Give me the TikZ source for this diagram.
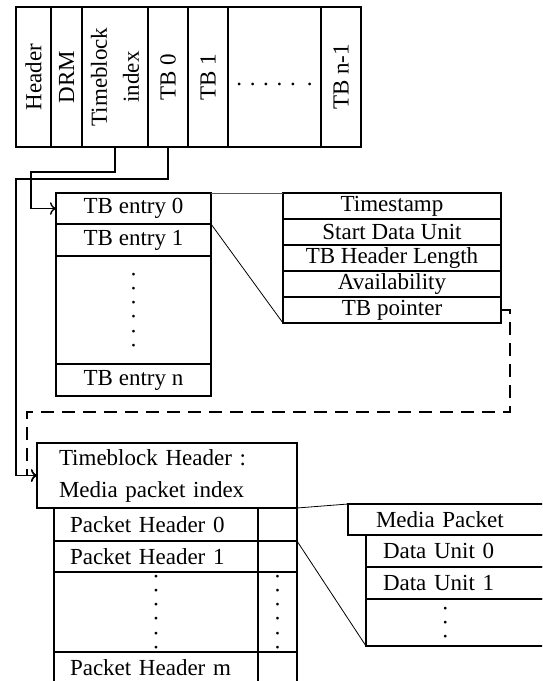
\documentclass[tikz,border=0pt]{standalone}
\usepackage{fontspec}
\setmainfont{Liberation Serif}
\usetikzlibrary{arrows.meta, positioning}

\newcommand{\dotgap}{\hspace{4.2pt}}

\begin{document}
\begin{tikzpicture}[
        x=0.5pt, y=-0.5pt,
        cell/.style={draw, line width=0.7pt, inner sep=0pt, outer sep=0pt,
            font=\fontsize{11.5pt}{16pt}\selectfont},
        column/.style={cell, rotate=90, minimum width=70pt, align=center},
        entry/.style={cell, minimum width=77.5pt, minimum height=16pt},
        field/.style={cell, minimum width=109pt, minimum height=13pt},
        packet/.style={cell, text width=86pt, inner xsep=8pt, align=left, minimum height=16pt},
        flag/.style={cell, minimum width=19.5pt, minimum height=16pt},
        unit/.style={cell, text width=80pt, inner xsep=8.5pt, align=left, minimum height=16pt},
        dotcol/.style={align=center},
        link/.style={-{To[length=3pt]}, line width=0.7pt},
        zoomline/.style={line width=0.4pt}
    ]
    \useasboundingbox (0,0) rectangle (542,681);
    \clip (0,0) rectangle (542,681);

    % File layout
    \node[column, minimum height=17.5pt] (hdr) at (33.5,77) {Header};
    \node[column, minimum height=15.5pt] (drm) at (66.5,77) {DRM};
    \node[column, minimum height=33pt] (tbidx) at (115,77) {Timeblock\\index};
    \node[column, minimum height=20pt] (tb0) at (168,77) {TB 0};
    \node[column, minimum height=20pt] (tb1) at (208,77) {TB 1};
    \node[cell, minimum width=46.5pt, minimum height=70pt, text height=8pt, text depth=0pt]
        (tbdots) at (274.5,77) {. . . . .\hspace{5.5pt}.};
    \node[column, minimum height=20pt] (tbn) at (341,77) {TB n-1};

    % Timeblock index
    \node[entry, minimum height=15.5pt, anchor=north west] (e0) at (56,193) {TB entry 0};
    \node[entry, below=0pt of e0] (e1) {TB entry 1};
    \node[entry, minimum height=54pt, dotcol, below=0pt of e1] (edots)
        {\rotatebox{90}{.\dotgap.\dotgap.\dotgap.\dotgap.\dotgap.}};
    \node[entry, below=0pt of edots] (en) {TB entry n};

    % TB entry fields
    \node[field, anchor=north west] (ts) at (283,193) {Timestamp};
    \node[field, below=0pt of ts] (sdu) {Start Data Unit};
    \node[field, below=0pt of sdu] (hlen) {TB Header Length};
    \node[field, below=0pt of hlen] (avail) {Availability};
    \node[field, below=0pt of avail] (ptr) {TB pointer};

    % Timeblock
    \node[cell, text width=108pt, inner xsep=11pt, align=left, minimum height=32.5pt,
        anchor=north west] (tbh) at (37,443) {Timeblock Header :\\Media packet index};
    \node[packet, minimum height=16.5pt, anchor=north west] (ph0) at (54,508) {Packet Header 0};
    \node[flag, minimum height=16.5pt, right=0pt of ph0] (f0) {};
    \node[packet, minimum height=15.5pt, below=0pt of ph0] (ph1) {Packet Header 1};
    \node[flag, minimum height=15.5pt, right=0pt of ph1] (f1) {};
    \node[packet, minimum height=40pt, dotcol, below=0pt of ph1] (phdots)
        {\rotatebox{90}{.\dotgap.\dotgap.\dotgap.\dotgap.\dotgap.}};
    \node[flag, minimum height=40pt, dotcol, right=0pt of phdots] (fdots)
        {\rotatebox{90}{.\dotgap.\dotgap.\dotgap.\dotgap.\dotgap.}};
    \node[packet, below=0pt of phdots] (phm) {Packet Header m};
    \node[flag, right=0pt of phm] (fm) {};

    % Media packet
    \node[cell, text width=78pt, inner xsep=14pt, align=left, minimum height=15.5pt,
        anchor=north west] (mp) at (348,504) {Media Packet};
    \node[unit, anchor=north west] (du0) at (366,535) {Data Unit 0};
    \node[unit, below=0pt of du0] (du1) {Data Unit 1};
    \node[unit, minimum height=23.5pt, text width=19pt, inner xsep=39pt,
        below=0pt of du1] (dudots) {\rotatebox{90}{.\dotgap.\dotgap.}};

    % Pointers
    \coordinate (k1) at (31,172);
    \coordinate (k2) at (16,179);
    \coordinate (k3) at (510,412);
    \coordinate (k4) at (27,412);
    \draw[link] (tbidx.west) |- (k1) |- (e0.west);
    \draw[link] (tb0.west) |- (k2) |- (tbh.west);
    \draw[link, dash pattern=on 6.5pt off 4pt] (ptr.east) -| (k3) -- (k4) |- (tbh.west);

    % Zoom lines
    \draw[zoomline, black!65] (e0.north east) -- (ts.north west);
    \draw[zoomline] (e0.south east) -- (ptr.south west);
    \draw[zoomline] (tbh.south east) -- (mp.north west);
    \draw[zoomline] (f0.south east) -- (dudots.south west);

\end{tikzpicture}
\end{document}
